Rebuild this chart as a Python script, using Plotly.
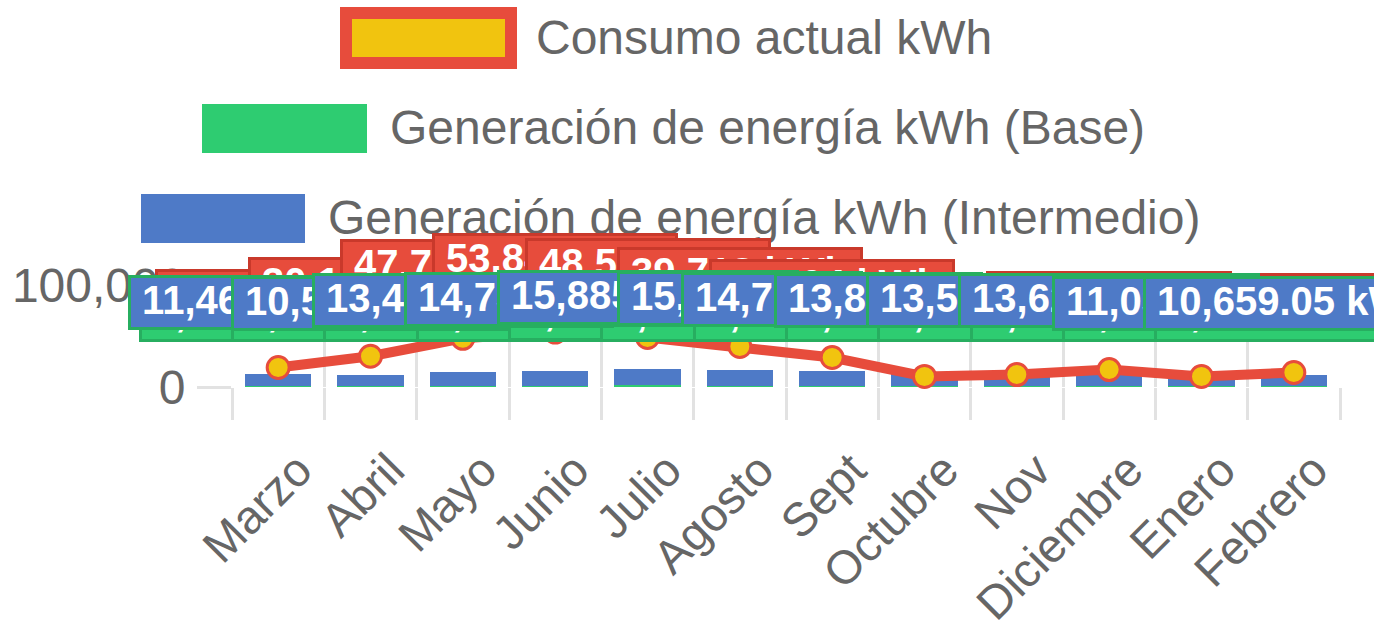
import plotly.graph_objects as go

# ---------------- data ----------------
months = ["Marzo", "Abril", "Mayo", "Junio", "Julio", "Agosto", "Sept",
          "Octubre", "Nov", "Diciembre", "Enero", "Febrero"]
consumo = [19120, 30145, 47735, 53842, 48576, 39718, 28904,
           10350, 12180, 17050, 10290, 14230]
base = [1250.46, 1310.75, 1420.38, 1395.12, 1482.67, 1366.29, 1274.53,
        1198.84, 1233.61, 1287.45, 1216.92, 1241.38]
intermedio = [11462.38, 10548.7, 13417.52, 14735.16, 15885.43, 15320,
              14706.91, 13842.27, 13571.64, 13629.08, 11034.82, 10659.05]

series_names = ["Consumo actual kWh",
                "Generación de energía kWh (Base)",
                "Generación de energía kWh (Intermedio)"]

# ---------------- styles ----------------
RED = "#e74c3c"
RED_DARK = "#c9392b"
YELLOW = "#f1c40f"
GREEN = "#2ecc71"
GREEN_DARK = "#27ae60"
BLUE = "#4e7ac7"
GRID = "#e2e2e2"
TXT = "#666666"
FONT = "Liberation Sans, Arial, Helvetica, sans-serif"

W, H = 1374, 629
ML, MR, MT, MB = 232, 34, 285, 242
PW, PH = W - ML - MR, H - MT - MB


def px_x(px):
    return (px - ML) / PW


def px_y(py):
    return (H - MB - py) / PH


def fmt(v, unit=" kWh", dec=2):
    s = f"{v:,.{dec}f}"
    if "." in s:
        s = s.rstrip("0").rstrip(".")
    return s + unit


fig = go.Figure()
fig.add_trace(go.Bar(x=months, y=base, name=series_names[1],
                     marker=dict(color=GREEN, line=dict(width=0)), width=0.72))
fig.add_trace(go.Bar(x=months, y=intermedio, name=series_names[2],
                     marker=dict(color=BLUE, line=dict(width=0)), width=0.72))
fig.add_trace(go.Scatter(x=months, y=consumo, name=series_names[0],
                         mode="lines+markers",
                         line=dict(color=RED, width=10),
                         marker=dict(size=22, color=YELLOW,
                                     line=dict(color=RED, width=3)),
                         cliponaxis=False))

annotations = []
# legend texts
leg_items = [(series_names[0], 534, 37), (series_names[1], 388, 127),
             (series_names[2], 326, 217)]
for name, lx, ly in leg_items:
    annotations.append(dict(text=name, xref="paper", yref="paper",
                            x=px_x(lx), y=px_y(ly), xanchor="left",
                            yanchor="middle", showarrow=False,
                            font=dict(family=FONT, size=48, color=TXT)))

PAD = "\u00a0"
OFFSET = 44


def label(xv, yv, text, bg, border):
    return dict(x=xv, y=yv, xref="x", yref="y", text=PAD + text + PAD,
                showarrow=False, xanchor="center", yanchor="bottom",
                yshift=OFFSET, bgcolor=bg, bordercolor=border,
                borderwidth=3, borderpad=0, height=49, valign="top",
                font=dict(family=FONT, size=40, color="white", weight="bold"))


for m, v in zip(months, consumo):
    annotations.append(label(m, v, fmt(v, dec=0), RED, RED_DARK))
for m, v in zip(months, base):
    annotations.append(label(m, v, fmt(v), GREEN, GREEN_DARK))
for m, b, v in zip(months, base, intermedio):
    annotations.append(label(m, b + v, fmt(v), BLUE, GREEN_DARK))

# legend swatches
shapes = [
    dict(type="rect", xref="paper", yref="paper", x0=px_x(346), x1=px_x(511),
         y0=px_y(63), y1=px_y(13), fillcolor=YELLOW,
         line=dict(color=RED, width=12)),
    dict(type="rect", xref="paper", yref="paper", x0=px_x(202), x1=px_x(367),
         y0=px_y(153), y1=px_y(104), fillcolor=GREEN, line=dict(width=0)),
    dict(type="rect", xref="paper", yref="paper", x0=px_x(141), x1=px_x(305),
         y0=px_y(243), y1=px_y(194), fillcolor=BLUE, line=dict(width=0)),
]

fig.update_layout(
    width=W, height=H, autosize=False,
    margin=dict(l=ML, r=MR, t=MT, b=MB, pad=0),
    paper_bgcolor="white", plot_bgcolor="white",
    barmode="stack", showlegend=False,
    annotations=annotations, shapes=shapes,
    font=dict(family=FONT, color=TXT),
    xaxis=dict(type="category", range=[-0.5, len(months) - 0.5],
               autorange=False, tickson="boundaries", showgrid=True,
               gridcolor=GRID, gridwidth=3, ticks="outside", ticklen=32,
               tickwidth=3, tickcolor=GRID, tickangle=-45,
               ticklabelstandoff=45, ticklabelshift=20,
               tickfont=dict(family=FONT, size=47, color=TXT),
               showline=False, zeroline=False, automargin=False),
    yaxis=dict(range=[0, 100000], autorange=False, tickvals=[0, 100000],
               tickformat=",d",
               showgrid=True, gridcolor=GRID, gridwidth=3, ticks="outside",
               ticklen=34, tickwidth=3, tickcolor=GRID, ticklabelstandoff=2,
               tickfont=dict(family=FONT, size=48, color=TXT),
               showline=False, zeroline=False, automargin=False),
)

fig.write_html("out.html",
               config={"displayModeBar": False},
               post_script="document.body.style.margin='0px';"
                           "document.body.style.overflow='hidden';")
